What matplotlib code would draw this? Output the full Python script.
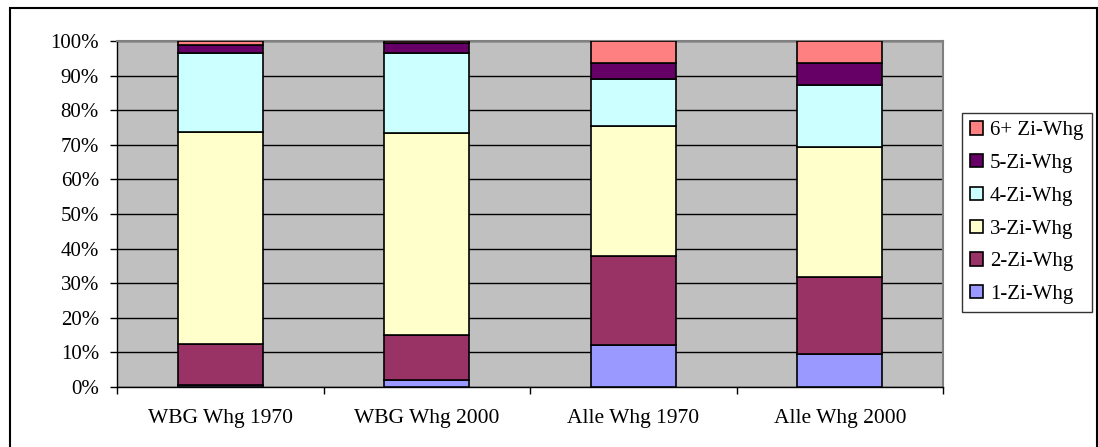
import numpy as np
import matplotlib.pyplot as plt
from matplotlib.patches import Rectangle
from matplotlib.ticker import PercentFormatter

plt.rcParams['font.family'] = ['Liberation Serif', 'DejaVu Serif']

# Wohnungsbestand nach Zimmerzahl (Anteile in %)
categories = ['WBG Whg 1970', 'WBG Whg 2000', 'Alle Whg 1970', 'Alle Whg 2000']
series_names = ['1-Zi-Whg', '2-Zi-Whg', '3-Zi-Whg', '4-Zi-Whg', '5-Zi-Whg', '6+ Zi-Whg']
zi1 = [0.5, 2.0, 12.1, 9.4]
zi2 = [11.8, 13.0, 25.8, 22.4]
zi3 = [61.5, 58.3, 37.6, 37.7]
zi4 = [22.6, 23.1, 13.5, 17.8]
zi5 = [2.4, 3.1, 4.6, 6.3]
zi6 = [1.2, 0.5, 6.4, 6.4]
colors = ['#9999FF', '#993366', '#FFFFCC', '#CCFFFF', '#660066', '#FF8080']

fig = plt.figure(figsize=(10.98, 4.47), dpi=100)
ax = fig.add_axes([117 / 1098, 1 - 387 / 447, 826 / 1098, 346 / 447])
ax.set_facecolor('#C0C0C0')

x = np.arange(len(categories))
bottom = np.zeros(len(categories))
for name, vals, col in zip(series_names, [zi1, zi2, zi3, zi4, zi5, zi6], colors):
    vals = np.array(vals)
    ax.bar(x, vals, 0.41, bottom=bottom, color=col, edgecolor='black',
           linewidth=1.2, label=name, zorder=3)
    bottom += vals

ax.set_xlim(-0.5, len(categories) - 0.5)
ax.set_ylim(0, 100)
ax.set_yticks(np.arange(0, 101, 10))
ax.yaxis.set_major_formatter(PercentFormatter(decimals=0))
ax.yaxis.grid(True, color='black', linewidth=1.0, zorder=1)

# Kategorienamen mittig, Teilstriche zwischen den Gruppen
ax.set_xticks(np.arange(-0.5, len(categories), 1.0))
ax.set_xticklabels([])
ax.set_xticks(x, minor=True)
ax.set_xticklabels(categories, minor=True, fontsize=15.5)
ax.tick_params(axis='x', which='minor', length=0, pad=16)
ax.tick_params(axis='x', which='major', length=5, width=1, direction='out')
ax.tick_params(axis='y', length=5, width=1, direction='out', labelsize=15, pad=8)

for side in ['top', 'right']:
    ax.spines[side].set_color('#808080')
    ax.spines[side].set_linewidth(1.5)
for side in ['left', 'bottom']:
    ax.spines[side].set_color('black')
    ax.spines[side].set_linewidth(1.0)

handles, labels = ax.get_legend_handles_labels()
leg = fig.legend(handles[::-1], labels[::-1], loc='upper left',
                 bbox_to_anchor=(962 / 1098, 1 - 113 / 447),
                 fontsize=15, frameon=True, fancybox=False, edgecolor='black',
                 handlelength=0.6, handleheight=0.6, handletextpad=0.35,
                 labelspacing=0.66, borderpad=0.4, borderaxespad=0)
leg.get_frame().set_linewidth(1.0)

# Rahmen um das gesamte Diagramm
fig.patches.append(Rectangle((10 / 1098, -0.05), 1087 / 1098, 1.05 - 8 / 447,
                             transform=fig.transFigure, fill=False,
                             edgecolor='black', linewidth=1.5))

fig.savefig('out.png', dpi=100)
